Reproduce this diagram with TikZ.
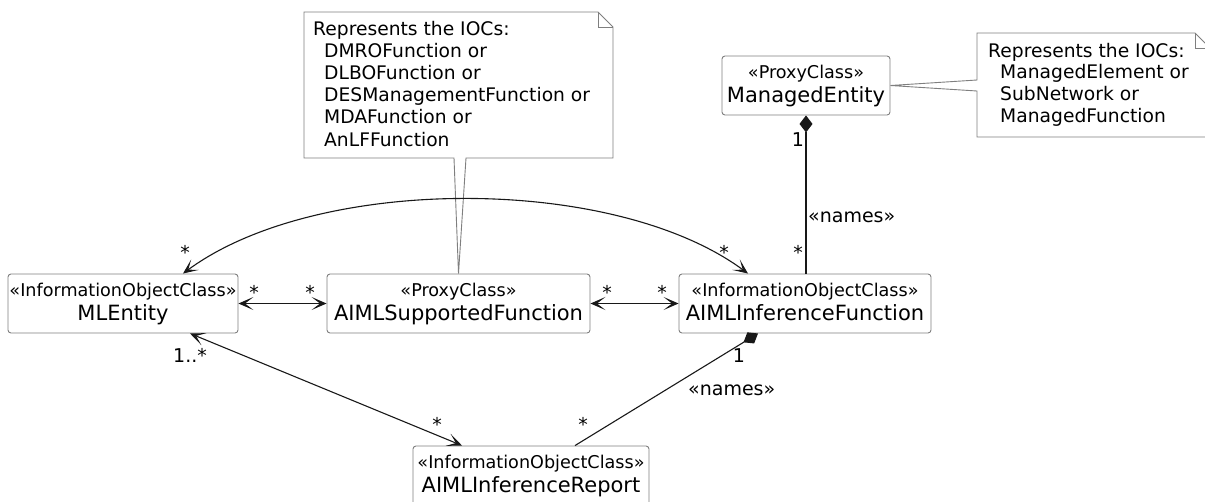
\documentclass[tikz,border=0pt]{standalone}
\usepackage{fontspec}
\setmainfont{DejaVu Sans}
\usetikzlibrary{arrows.meta}

\definecolor{edgeink}{HTML}{181818}
\definecolor{frameink}{HTML}{7F7F7F}

\begin{document}
\begin{tikzpicture}[x=1pt,y=-1pt,
  classbox/.style={draw=frameink, fill=white, rounded corners=3pt, line width=0.9pt,
    inner sep=0pt, minimum height=59pt},
  stereo/.style={font=\fontsize{17.6}{20}\selectfont, anchor=base, inner sep=0pt},
  cname/.style={font=\fontsize{21}{24}\selectfont, anchor=base, inner sep=0pt},
  notebox/.style={draw=frameink, fill=white, line width=0.9pt, line join=miter},
  notefold/.style={draw=frameink, line width=0.9pt},
  noteline/.style={font=\fontsize{18.7}{22}\selectfont, anchor=base west, inner sep=0pt},
  mult/.style={font=\fontsize{19}{22}\selectfont, anchor=base, inner sep=0pt},
  multw/.style={font=\fontsize{19}{22}\selectfont, anchor=base west, inner sep=0pt},
  navtip/.tip={Stealth[length=15pt,width=13pt,inset=8.5pt]},
  assoc/.style={draw=edgeink, line width=1.1pt, navtip-navtip},
  compose/.style={draw=edgeink, line width=1.1pt,
    -{Diamond[length=17pt,width=13pt,fill=edgeink]}}
]
\useasboundingbox (0,0) rectangle (1205,501);

% class boxes
\node[classbox, minimum width=230pt] (mle)  at (123,303.5) {};
\node[classbox, minimum width=263pt] (sup)  at (458.5,303.5) {};
\node[classbox, minimum width=252pt] (func) at (805,303.5) {};
\node[classbox, minimum width=168pt] (me)   at (806,85.5) {};
\node[classbox, minimum width=236pt] (rep)  at (531,475.5) {};

\node[stereo] (mleS)  at ([yshift=-23pt]mle.north)  {«InformationObjectClass»};
\node[cname]  (mleN)  at ([yshift=-47pt]mle.north)  {MLEntity};
\node[stereo] (supS)  at ([yshift=-23pt]sup.north)  {«ProxyClass»};
\node[cname]  (supN)  at ([yshift=-47pt]sup.north)  {AIMLSupportedFunction};
\node[stereo] (funcS) at ([yshift=-23pt]func.north) {«InformationObjectClass»};
\node[cname]  (funcN) at ([yshift=-47pt]func.north) {AIMLInferenceFunction};
\node[stereo] (meS)   at ([yshift=-23pt]me.north)   {«ProxyClass»};
\node[cname]  (meN)   at ([yshift=-47pt]me.north)   {ManagedEntity};
\node[stereo] (repS)  at ([yshift=-23pt]rep.north)  {«InformationObjectClass»};
\node[cname]  (repN)  at ([yshift=-47pt]rep.north)  {AIMLInferenceReport};

% note attached to AIMLSupportedFunction
\path[notebox] (304,12) -- (598,12) -- (613,27) -- (613,158) -- (466,158)
  -- (sup.north) -- (454,158) -- (304,158) -- cycle;
\draw[notefold] (598,12) -- (598,27) -- (613,27);
\node[noteline] (n1a) at (313,35)    {Represents the IOCs:};
\node[noteline] (n1b) at (324,57.2)  {DMROFunction or};
\node[noteline] (n1c) at (324,79.4)  {DLBOFunction or};
\node[noteline] (n1d) at (324,101.6) {DESManagementFunction or};
\node[noteline] (n1e) at (324,123.8) {MDAFunction or};
\node[noteline] (n1f) at (324,146)   {AnLFFunction};

% note attached to ManagedEntity
\path[notebox] (977,33) -- (1195,33) -- (1210,48) -- (1210,137) -- (977,137)
  -- (977,91) -- (me.east) -- (977,80) -- cycle;
\draw[notefold] (1195,33) -- (1195,48) -- (1210,48);
\node[noteline] (n2a) at (988,57)     {Represents the IOCs:};
\node[noteline] (n2b) at (1000,78.8)  {ManagedElement or};
\node[noteline] (n2c) at (1000,100.6) {SubNetwork or};
\node[noteline] (n2d) at (1000,122.4) {ManagedFunction};

% associations
\draw[assoc] (mle.east) -- (sup.west);
\draw[assoc] (sup.east) -- (func.west);
\draw[assoc] ([xshift=67pt]mle.south) -- ([xshift=-69pt]rep.north);
\draw[assoc] ([xshift=60pt]mle.north) .. controls +(134,-99) and +(-134,-99) .. ([xshift=-57pt]func.north);

% compositions
\draw[compose] (me.south |- func.north) -- (me.south);
\draw[compose] ([xshift=44pt]rep.north) -- ([xshift=-47pt]func.south);

% multiplicities and stereotypes on the links
\node[mult]  (m1)  at (185,259) {*};
\node[mult]  (m2)  at (724,259) {*};
\node[mult]  (m3)  at (254,299) {*};
\node[mult]  (m4)  at (310,299) {*};
\node[mult]  (m5)  at (607,299) {*};
\node[mult]  (m6)  at (662,299) {*};
\node[mult]  (m7)  at (798,146) {1};
\node[mult]  (m8)  at (798,259) {*};
\node[multw] (m9)  at (808,222) {«names»};
\node[multw] (m10) at (173,362) {1..*};
\node[mult]  (m11) at (437,431) {*};
\node[mult]  (m12) at (583,431) {*};
\node[mult]  (m13) at (739,362) {1};
\node[multw] (m14) at (688,395) {«names»};
\end{tikzpicture}
\end{document}
